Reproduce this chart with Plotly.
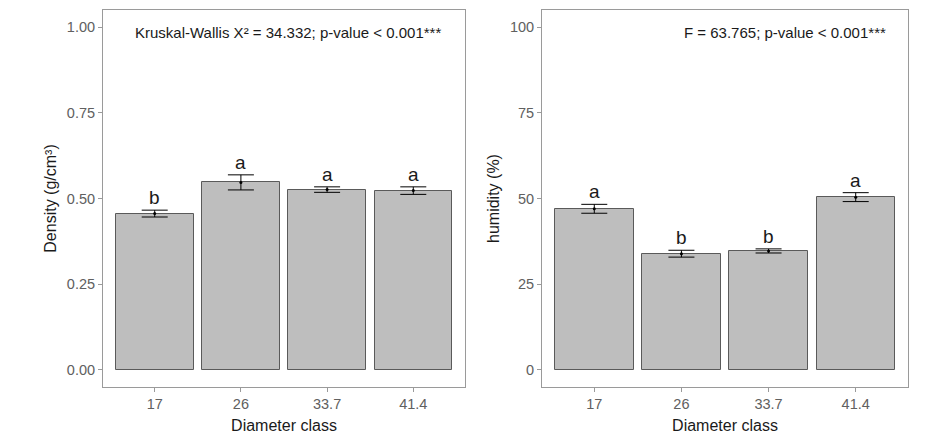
import plotly.graph_objects as go

# ---- data ----
categories = ["17", "26", "33.7", "41.4"]
density_mean = [0.456, 0.547, 0.526, 0.523]
density_se = [0.010, 0.022, 0.008, 0.011]
density_letters = ["b", "a", "a", "a"]
humidity_mean = [47.0, 33.9, 34.7, 50.4]
humidity_se = [1.3, 1.0, 0.6, 1.3]
humidity_letters = ["a", "b", "b", "a"]
density_ticks = [0.0, 0.25, 0.50, 0.75, 1.00]
density_ticktext = ["0.00", "0.25", "0.50", "0.75", "1.00"]
humidity_ticks = [0, 25, 50, 75, 100]
stat_left = "Kruskal-Wallis X² = 34.332; p-value < 0.001***"
stat_right = "F = 63.765; p-value < 0.001***"

FONT = "Liberation Sans, Arial, sans-serif"
BAR_FILL = "#bebebe"
BAR_LINE = "#5a5a5a"
BORDER = "#9a9a9a"
TICKFONT = dict(family=FONT, size=14.5, color="#606060")
TITLEFONT = dict(family=FONT, size=16, color="#1a1a1a")

# page body has an 8px margin; figure drawn inside it
OFF = 8
W, H = 926 - 2 * OFF, 446 - 2 * OFF
def fx(px):
    return (px - OFF) / W
def fy(py):
    return 1 - (py - OFF) / H

fig = go.Figure()

panels = [
    ("x", "y", density_mean, density_se, density_letters),
    ("x2", "y2", humidity_mean, humidity_se, humidity_letters),
]
for xa, ya, means, ses, letters in panels:
    fig.add_trace(go.Bar(
        x=categories, y=means, width=0.9,
        marker=dict(color=BAR_FILL, line=dict(color=BAR_LINE, width=1)),
        xaxis=xa, yaxis=ya, showlegend=False, hoverinfo="skip",
    ))
    fig.add_trace(go.Scatter(
        x=categories, y=means, mode="markers",
        marker=dict(color="black", size=3),
        error_y=dict(type="data", array=ses, color="black", thickness=1, width=13),
        xaxis=xa, yaxis=ya, showlegend=False, hoverinfo="skip",
    ))
    for i, (m, s, l) in enumerate(zip(means, ses, letters)):
        fig.add_annotation(
            x=i, y=m + s, xref=xa, yref=ya, text=l, showarrow=False,
            yanchor="bottom", yshift=0,
            font=dict(family=FONT, size=19, color="#1a1a1a"),
        )

fig.add_annotation(x=0.51, y=1.0, xref="x domain", yref="y", text=stat_left,
                   showarrow=False, yanchor="top", xanchor="center", yshift=5,
                   font=dict(family=FONT, size=15, color="#1a1a1a"))
fig.add_annotation(x=0.664, y=100, xref="x2 domain", yref="y2", text=stat_right,
                   showarrow=False, yanchor="top", xanchor="center", yshift=5,
                   font=dict(family=FONT, size=15, color="#1a1a1a"))

xcommon = dict(
    type="category", range=[-0.6, 3.6], showline=True, mirror=True,
    linecolor=BORDER, linewidth=1, showgrid=False, zeroline=False,
    ticks="outside", ticklen=4, tickcolor=BORDER, tickwidth=1,
    tickfont=TICKFONT,
)
ycommon = dict(
    showline=True, mirror=True, linecolor=BORDER, linewidth=1,
    showgrid=False, zeroline=False, ticks="outside", ticklen=4,
    tickcolor=BORDER, tickwidth=1, tickfont=TICKFONT,
)

fig.update_layout(
    width=W, height=H, margin=dict(l=0, r=0, t=0, b=0),
    paper_bgcolor="white", plot_bgcolor="white", bargap=0,
    xaxis=dict(**xcommon, anchor="y", domain=[fx(103), fx(465)],
               title=dict(text="Diameter class", font=TITLEFONT, standoff=8)),
    xaxis2=dict(**xcommon, anchor="y2", domain=[fx(542), fx(908)],
                title=dict(text="Diameter class", font=TITLEFONT, standoff=8)),
    yaxis=dict(**ycommon, anchor="x", domain=[fy(387), fy(10)],
               range=[-0.05, 1.05], tickvals=density_ticks, ticktext=density_ticktext,
               title=dict(text="Density (g/cm³)", font=TITLEFONT, standoff=6)),
    yaxis2=dict(**ycommon, anchor="x2", domain=[fy(387), fy(10)],
                range=[-5, 105], tickvals=humidity_ticks,
                title=dict(text="humidity (%)", font=TITLEFONT, standoff=6)),
)

fig.write_html("out.html")
